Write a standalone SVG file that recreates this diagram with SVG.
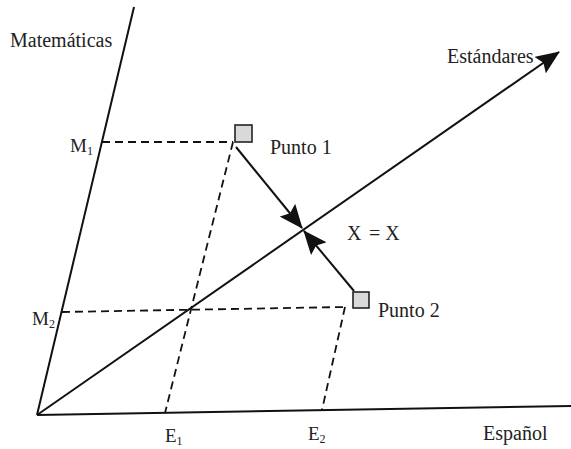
<svg xmlns="http://www.w3.org/2000/svg" width="571" height="449" viewBox="0 0 571 449">
<style>
.axis{stroke:#111;stroke-width:2;fill:none}
.dash{stroke:#111;stroke-width:1.8;stroke-dasharray:8 5;fill:none}
.arr{stroke:#111;stroke-width:2;fill:none}
.pt{fill:#d9d9d9;stroke:#222;stroke-width:1.6}
text{font-family:"Liberation Serif","Times New Roman",serif;fill:#222}
.lbl{font-size:20px}
.ax{font-size:19px}
.sub{font-size:12px}
</style>
<defs>
<marker id="ah" markerUnits="userSpaceOnUse" markerWidth="24" markerHeight="20" refX="23" refY="10" orient="auto">
<path d="M0,0 L24,10 L0,20 L4,10 z" fill="#111"/>
</marker>
</defs>
<rect width="571" height="449" fill="#fff"/>
<g id="connectors">
<line class="axis" x1="37" y1="415" x2="134" y2="7"/>
<line class="axis" x1="37" y1="415" x2="571" y2="406"/>
<line class="axis" x1="37" y1="415" x2="559" y2="52" marker-end="url(#ah)"/>
<line class="dash" x1="102" y1="142" x2="233" y2="142"/>
<line class="dash" x1="233" y1="142" x2="165" y2="413"/>
<line class="dash" x1="62" y1="312" x2="345" y2="307"/>
<line class="dash" x1="345" y1="307" x2="322" y2="410"/>
<line class="arr" x1="236" y1="147" x2="302" y2="228" marker-end="url(#ah)"/>
<line class="arr" x1="354" y1="291" x2="304" y2="231" marker-end="url(#ah)"/>
</g>
<g id="punto1">
<rect class="pt" x="235" y="125" width="17" height="17"/>
<text class="lbl" x="270" y="154">Punto 1</text>
</g>
<g id="punto2">
<rect class="pt" x="353" y="292" width="16" height="16"/>
<text class="lbl" x="378" y="317">Punto 2</text>
</g>
<g id="labels">
<text class="lbl" x="10" y="47">Matemáticas</text>
<text class="lbl" x="447" y="63">Estándares</text>
<text class="lbl" x="483" y="440">Español</text>
<text class="lbl" x="347" y="240">X</text>
<text class="lbl" x="369" y="240">= X</text>
<text class="ax" x="70" y="152">M<tspan class="sub" dy="3">1</tspan></text>
<text class="ax" x="32" y="325">M<tspan class="sub" dy="3">2</tspan></text>
<text class="ax" x="165" y="442">E<tspan class="sub" dy="3">1</tspan></text>
<text class="ax" x="308" y="440">E<tspan class="sub" dy="3">2</tspan></text>
</g>
</svg>
